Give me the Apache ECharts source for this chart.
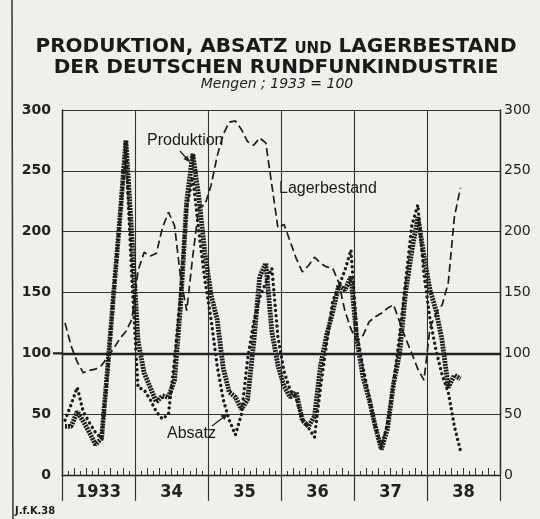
<!DOCTYPE html>
<html><head><meta charset="utf-8">
<script src="https://cdn.jsdelivr.net/npm/echarts@6/dist/echarts.min.js"></script>
<style>html,body{margin:0;padding:0;background:#efefec}#c{width:540px;height:519px}</style>
</head><body><div id="c"></div>
<script>
// Years shown under the axis
const years = ['1933', '34', '35', '36', '37', '38'];
// Y axis ticks (index, 1933 = 100)
const yTicks = [0, 50, 100, 150, 200, 250, 300];

// Monthly values, Jan 1933 .. Jun 1938
const produktion = [
  40, 40, 52, 44, 35, 25, 30, 88, 150, 210, 275, 195,
  110, 84, 72, 60, 65, 64, 78, 140, 225, 264, 228, 182,
  148, 128, 88, 68, 64, 54, 62, 108, 163, 174, 118, 90,
  73, 64, 68, 45, 40, 48, 90, 115, 134, 156, 152, 163,
  110, 80, 62, 40, 21, 38, 75, 100, 151, 184, 212, 180,
  152, 135, 110, 72, 82, 79
];
const absatz = [
  45, 58, 72, 52, 43, 35, 30, 85, 150, 210, 268, 160,
  72, 70, 62, 52, 46, 50, 95, 150, 220, 245, 200, 160,
  128, 90, 62, 45, 33, 50, 95, 125, 146, 158, 170, 113,
  85, 70, 63, 45, 39, 31, 72, 108, 143, 155, 168, 185,
  115, 88, 64, 40, 23, 42, 75, 115, 160, 205, 222, 165,
  128, 102, 82, 68, 40, 20
];
const lagerbestand = [
  125, 106, 93, 84, 86, 87, 90, 97, 104, 112, 118, 128,
  168, 183, 180, 182, 203, 216, 205, 162, 135, 180, 220, 222,
  238, 262, 280, 290, 291, 284, 274, 271, 277, 273, 238, 203,
  206, 192, 178, 167, 172, 179, 174, 171, 170, 158, 135, 120,
  110, 115, 126, 130, 133, 137, 140, 126, 112, 100, 87, 78,
  121, 133, 140, 158, 212, 236
];

const months = [];
years.forEach(y => { for (let m = 1; m <= 12; m++) months.push(y + '-' + m); });

const ink = '#1c1c1c';
const chart = echarts.init(document.getElementById('c'));
const option = {
  backgroundColor: '#efefec',
  animation: false,
  grid: { left: 62, right: 40, top: 110, bottom: 44 },
  xAxis: [
    { type: 'category', data: months, boundaryGap: true,
      axisLine: { show: true, lineStyle: { color: '#222', width: 1.4 } },
      axisTick: { show: true, inside: true, interval: 0, length: 4, lineStyle: { color: '#333', width: 1 } },
      axisLabel: { show: false },
      splitLine: { show: true, interval: 11, lineStyle: { color: '#333', width: 1.1 } } },
    { type: 'category', data: months, boundaryGap: true, position: 'bottom',
      axisLine: { show: false },
      axisTick: { show: true, inside: true, interval: 1, length: 7, lineStyle: { color: '#333', width: 1 } },
      axisLabel: { show: false }, splitLine: { show: false } },
    { type: 'category', data: years, boundaryGap: true, position: 'bottom',
      axisLine: { show: false },
      axisTick: { show: true, length: 26, lineStyle: { color: '#333', width: 1.2 } },
      axisLabel: { fontSize: 18, fontWeight: 'bold', fontFamily: '"DejaVu Sans Condensed","Liberation Sans Narrow","DejaVu Sans",sans-serif', color: '#222', margin: 8 },
      splitLine: { show: false } }
  ],
  yAxis: [
    { type: 'value', min: yTicks[0], max: yTicks[yTicks.length - 1], interval: 50, position: 'left',
      axisLine: { show: true, lineStyle: { color: '#222', width: 1.4 } },
      axisTick: { show: false },
      axisLabel: { fontSize: 14, fontWeight: 'bold', fontFamily: 'DejaVu Sans', color: '#222', margin: 11 },
      splitLine: { show: true, lineStyle: { color: '#333', width: 1.1 } } },
    { type: 'value', min: yTicks[0], max: yTicks[yTicks.length - 1], interval: 50, position: 'right',
      axisLine: { show: true, lineStyle: { color: '#222', width: 1.4 } },
      axisTick: { show: false },
      axisLabel: { fontSize: 14, fontFamily: 'DejaVu Sans', color: '#222', margin: 4 },
      splitLine: { show: false } }
  ],
  series: [
    { name: 'Lagerbestand', type: 'line', data: lagerbestand, symbol: 'none', z: 2,
      lineStyle: { color: ink, width: 1.7, type: [8, 4] },
      markLine: { silent: true, symbol: 'none', label: { show: false },
        lineStyle: { color: '#222', width: 2.4, type: 'solid' }, data: [{ yAxis: 100 }] } },
    { name: 'Produktion', type: 'line', data: produktion, symbol: 'none', z: 3,
      lineStyle: { color: ink, width: 4.8, type: [2, 0.9] } },
    { name: 'Absatz', type: 'line', data: absatz, symbol: 'none', z: 4,
      lineStyle: { color: ink, width: 3.4, type: [0.01, 5.2], cap: 'round' } }
  ],
  graphic: [
    { type: 'line', shape: { x1: 12, y1: 0, x2: 13, y2: 519 }, style: { stroke: '#333', lineWidth: 1.5 } },
    { type: 'text', x: 276, y: 37, style: {
        text: 'PRODUKTION, ABSATZ {s|UND} LAGERBESTAND', textAlign: 'center', fill: '#1a1a1a',
        font: 'bold 20px "DejaVu Sans"',
        rich: { s: { font: 'bold 15px "DejaVu Sans"', fill: '#1a1a1a', verticalAlign: 'bottom' } } } },
    { type: 'text', x: 276, y: 58, style: {
        text: 'DER DEUTSCHEN RUNDFUNKINDUSTRIE', textAlign: 'center', fill: '#1a1a1a',
        font: 'bold 20px "DejaVu Sans"' } },
    { type: 'text', x: 277, y: 77, style: {
        text: 'Mengen ; 1933 = 100', textAlign: 'center', fill: '#1a1a1a',
        font: 'italic 14px "DejaVu Sans"' } },
    { type: 'text', x: 147, y: 133, style: { text: 'Produktion', fill: '#1a1a1a', font: '16px "Liberation Sans"' } },
    { type: 'line', shape: { x1: 180, y1: 151, x2: 188, y2: 160 }, style: { stroke: '#222', lineWidth: 1.3 } },
    { type: 'polygon', shape: { points: [[190, 162.5], [183.5, 159], [187.5, 155.5]] }, style: { fill: '#222' } },
    { type: 'text', x: 279, y: 181, style: { text: 'Lagerbestand', fill: '#1a1a1a', font: '16px "Liberation Sans"' } },
    { type: 'text', x: 167, y: 426, style: { text: 'Absatz', fill: '#1a1a1a', font: '16px "Liberation Sans"' } },
    { type: 'line', shape: { x1: 212, y1: 426, x2: 225, y2: 416 }, style: { stroke: '#222', lineWidth: 1.3 } },
    { type: 'polygon', shape: { points: [[228, 413.5], [220.5, 415.5], [224.5, 420]] }, style: { fill: '#222' } },
    { type: 'text', x: 15, y: 506, style: { text: 'J.f.K.38', fill: '#1a1a1a', font: 'bold 11px "DejaVu Sans Condensed","DejaVu Sans"' } }
  ]
};
chart.setOption(option);
// extend the base line (100) slightly past the left axis, as in the print
const y100 = chart.convertToPixel({ yAxisIndex: 0 }, yTicks[2]);
chart.setOption({ graphic: option.graphic.concat([
  { type: 'line', shape: { x1: 53, y1: y100, x2: 62, y2: y100 }, style: { stroke: '#222', lineWidth: 2.2 } }
]) });
</script></body></html>
